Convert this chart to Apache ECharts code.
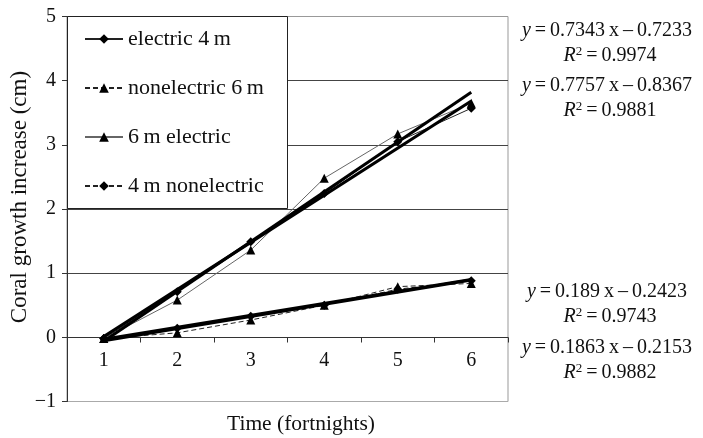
<!DOCTYPE html>
<html>
<head>
<meta charset="utf-8">
<script src="https://cdn.jsdelivr.net/npm/echarts@6/dist/echarts.min.js"></script>
<style>html,body{margin:0;padding:0;background:#fff}#c{width:703px;height:438px}</style>
</head>
<body>
<div id="c"></div>
<script>
const categories = ['1', '2', '3', '4', '5', '6'];
const electric4m = [-0.02, 0.71, 1.49, 2.24, 3.05, 3.57];
const nonelectric6m = [-0.02, 0.07, 0.27, 0.50, 0.79, 0.84];
const electric6m = [-0.02, 0.58, 1.36, 2.48, 3.17, 3.65];
const nonelectric4m = [-0.02, 0.14, 0.33, 0.50, 0.75, 0.88];
// trendline end values (at fortnight 1 and 6)
const trendElectric4m = [0.011, null, null, null, null, 3.683];
const trendElectric6m = [-0.061, null, null, null, null, 3.818];
const trendNonelectric6m = [-0.053, null, null, null, null, 0.892];
const trendNonelectric4m = [-0.029, null, null, null, null, 0.903];
const seriesNames = ['electric 4\u2009m', 'nonelectric 6\u2009m', '6\u2009m electric', '4\u2009m nonelectric'];
const eqSlopes = ['0.7343', '0.7757', '0.189', '0.1863'];
const eqIntercepts = ['0.7233', '0.8367', '0.2423', '0.2153'];
const eqR2 = ['0.9974', '0.9881', '0.9743', '0.9882'];
const xAxisTitle = 'Time (fortnights)';
const yAxisTitle = 'Coral growth increase (cm)';

const FONT = '"Liberation Serif", "DejaVu Serif", serif';
const chart = echarts.init(document.getElementById('c'));

function dataSeries(name, data, symbol, color, type) {
  return {
    name: name, type: 'line', data: data, symbol: symbol, symbolSize: 9,
    showSymbol: true,
    itemStyle: { color: '#000' },
    lineStyle: { color: color, width: 1, type: type === 'dashed' ? [5, 3] : 'solid' },
    z: 3, animation: false
  };
}
function trendSeries(data) {
  return {
    type: 'line', data: data, connectNulls: true, showSymbol: false, symbol: 'none',
    lineStyle: { color: '#000', width: 3 }, z: 4, silent: true, animation: false
  };
}

const eqPos = [[607, 31, 56], [607, 86, 111], [607, 292, 317], [607, 348, 373]];
const graphics = [{
  type: 'rect', z: 5,
  shape: { x: 67.5, y: 16.5, width: 220, height: 192 },
  style: { fill: '#fff', stroke: '#222', lineWidth: 1 }
}, {
  type: 'text', z: 10, x: 301, y: 424,
  style: { text: xAxisTitle, align: 'center', verticalAlign: 'middle', fill: '#111', font: '21.5px ' + FONT }
}, {
  type: 'text', z: 10, x: 20, y: 197, rotation: Math.PI / 2,
  style: { text: yAxisTitle, align: 'center', verticalAlign: 'middle', fill: '#111', font: '23px ' + FONT }
}];
eqSlopes.forEach(function (s, i) {
  graphics.push({
    type: 'text', z: 10, x: eqPos[i][0], y: eqPos[i][1],
    style: {
      text: '{i|y}\u2009=\u2009' + s + '\u2009x\u2009\u2013\u2009' + eqIntercepts[i],
      align: 'center', verticalAlign: 'middle', fill: '#111', font: '20px ' + FONT,
      rich: { i: { fontStyle: 'italic', fontSize: 20, fontFamily: FONT } }
    }
  });
  graphics.push({
    type: 'text', z: 10, x: eqPos[i][0] + 3, y: eqPos[i][2],
    style: {
      text: '{i|R}{s|2}\u2009=\u2009' + eqR2[i],
      align: 'center', verticalAlign: 'middle', fill: '#111', font: '20px ' + FONT,
      rich: {
        i: { fontStyle: 'italic', fontSize: 20, fontFamily: FONT },
        s: { fontSize: 13, fontFamily: FONT, verticalAlign: 'top', padding: [0, 0, 8, 0] }
      }
    }
  });
});

chart.setOption({
  backgroundColor: '#fff',
  animation: false,
  textStyle: { fontFamily: FONT },
  grid: { left: 67, top: 16.5, width: 441, height: 385, show: true, borderColor: '#999', borderWidth: 1,
    backgroundColor: 'transparent', containLabel: false, outerBoundsMode: 'none' },
  legend: {
    orient: 'vertical', left: 84, top: 28, padding: 0, itemGap: 27, itemWidth: 38, itemHeight: 12,
    data: seriesNames, z: 10,
    textStyle: { fontFamily: FONT, fontSize: 22, color: '#111' }
  },
  xAxis: {
    type: 'category', data: categories, boundaryGap: true, position: 'bottom', offset: -64,
    axisLine: { onZero: false, lineStyle: { color: '#333', width: 1 } },
    axisTick: { show: true, inside: false, length: 5, lineStyle: { color: '#333' } },
    axisLabel: { fontSize: 20, color: '#111', fontFamily: FONT, margin: 13 },
    splitLine: { show: false }
  },
  yAxis: {
    type: 'value', min: -1, max: 5, interval: 1,
    axisLine: { show: true, lineStyle: { color: '#333', width: 1 } },
    axisTick: { show: true, length: 5, lineStyle: { color: '#333' } },
    axisLabel: { fontSize: 20, color: '#111', fontFamily: FONT, margin: 11,
      formatter: function (v) { return v < 0 ? '\u2212' + Math.abs(v) : String(v); } },
    splitLine: { show: true, lineStyle: { color: ['#aaa', '#444', '#444', '#444', '#444', '#444', '#999'], width: 1 } }
  },
  graphic: graphics,
  series: [
    dataSeries(seriesNames[0], electric4m, 'diamond', '#222', 'solid'),
    dataSeries(seriesNames[1], nonelectric6m, 'triangle', '#222', 'dashed'),
    dataSeries(seriesNames[2], electric6m, 'triangle', '#666', 'solid'),
    dataSeries(seriesNames[3], nonelectric4m, 'diamond', '#222', 'dashed'),
    trendSeries(trendElectric4m),
    trendSeries(trendElectric6m),
    trendSeries(trendNonelectric6m),
    trendSeries(trendNonelectric4m)
  ]
});
</script>
</body>
</html>
